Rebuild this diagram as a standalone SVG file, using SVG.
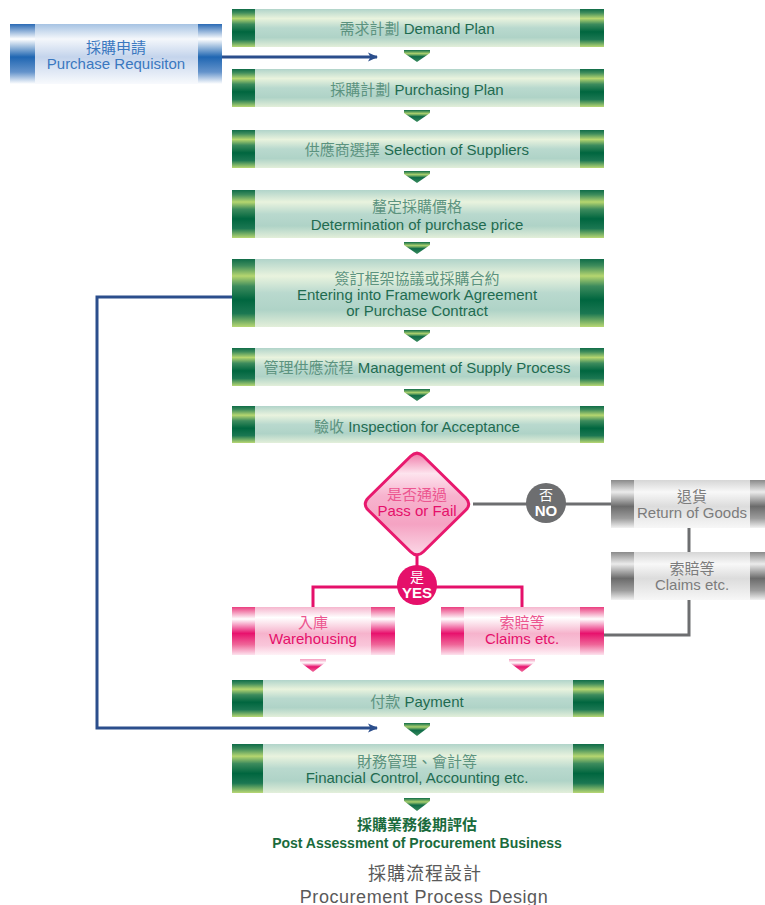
<svg xmlns="http://www.w3.org/2000/svg" width="765" height="905" viewBox="0 0 765 905">
<defs>
<linearGradient id="gCap" x1="0" y1="0" x2="0" y2="1">
<stop offset="0" stop-color="#0f6c48"/><stop offset="0.1" stop-color="#3f8d5c"/><stop offset="0.25" stop-color="#b6d66f"/><stop offset="0.4" stop-color="#3d8b5d"/><stop offset="0.6" stop-color="#00663f"/><stop offset="0.8" stop-color="#1b7752"/><stop offset="1" stop-color="#b9d874"/>
</linearGradient>
<linearGradient id="gBody" x1="0" y1="0" x2="0" y2="1">
<stop offset="0" stop-color="#b1d4ca"/><stop offset="0.25" stop-color="#e9f3de"/><stop offset="0.5" stop-color="#b9d9ce"/><stop offset="0.75" stop-color="#afd3c7"/><stop offset="1" stop-color="#e3efda"/>
</linearGradient>
<linearGradient id="gChev" x1="0" y1="0" x2="0" y2="1">
<stop offset="0" stop-color="#0f6c48"/><stop offset="0.3" stop-color="#a9cf6e"/><stop offset="0.55" stop-color="#0f6c48"/><stop offset="1" stop-color="#3a8b5d"/>
</linearGradient>
<linearGradient id="pCap" x1="0" y1="0" x2="0" y2="1">
<stop offset="0" stop-color="#ea3d7f"/><stop offset="0.25" stop-color="#ffffff"/><stop offset="0.55" stop-color="#e8116d"/><stop offset="0.78" stop-color="#ef6598"/><stop offset="1" stop-color="#fde3ee"/>
</linearGradient>
<linearGradient id="pBody" x1="0" y1="0" x2="0" y2="1">
<stop offset="0" stop-color="#f5b6ce"/><stop offset="0.22" stop-color="#ffffff"/><stop offset="0.55" stop-color="#f6b3cc"/><stop offset="0.8" stop-color="#f9c6da"/><stop offset="1" stop-color="#fff3f7"/>
</linearGradient>
<linearGradient id="pChev" x1="0" y1="0" x2="0" y2="1">
<stop offset="0" stop-color="#f49abd"/><stop offset="0.3" stop-color="#ffffff"/><stop offset="0.6" stop-color="#e8116d"/><stop offset="1" stop-color="#f06f9e"/>
</linearGradient>
<linearGradient id="yCap" x1="0" y1="0" x2="0" y2="1">
<stop offset="0" stop-color="#8a8a8a"/><stop offset="0.25" stop-color="#ebebeb"/><stop offset="0.55" stop-color="#6b6b6b"/><stop offset="0.8" stop-color="#9c9c9c"/><stop offset="1" stop-color="#f2f2f2"/>
</linearGradient>
<linearGradient id="yBody" x1="0" y1="0" x2="0" y2="1">
<stop offset="0" stop-color="#d6d6d6"/><stop offset="0.25" stop-color="#f8f8f8"/><stop offset="0.55" stop-color="#dcdcdc"/><stop offset="1" stop-color="#f7f7f7"/>
</linearGradient>
<linearGradient id="bCap" x1="0" y1="0" x2="0" y2="1">
<stop offset="0" stop-color="#2a6ab5"/><stop offset="0.25" stop-color="#ffffff"/><stop offset="0.55" stop-color="#1f66b2"/><stop offset="0.8" stop-color="#6493cb"/><stop offset="1" stop-color="#ffffff"/>
</linearGradient>
<linearGradient id="bBody" x1="0" y1="0" x2="0" y2="1">
<stop offset="0" stop-color="#a6c3e3"/><stop offset="0.25" stop-color="#f4f7fb"/><stop offset="0.55" stop-color="#c4d4ec"/><stop offset="1" stop-color="#f8fafd"/>
</linearGradient>
<linearGradient id="dFill" x1="0" y1="0" x2="0" y2="1">
<stop offset="0" stop-color="#f07aa8"/><stop offset="0.2" stop-color="#fde4ee"/><stop offset="0.42" stop-color="#f7b3ce"/><stop offset="0.7" stop-color="#f5a3c3"/><stop offset="1" stop-color="#fbd8e6"/>
</linearGradient>
<marker id="arr" markerWidth="10" markerHeight="10" refX="9" refY="5" orient="auto" markerUnits="userSpaceOnUse">
<path d="M0,0.5 L10,5 L0,9.5 L2.5,5 Z" fill="#2b4e8c"/>
</marker>
<style>
text{font-family:"Liberation Sans","Noto Sans CJK TC",Arial,sans-serif;font-size:15px;text-anchor:middle}
text.t14{font-size:14px}
text.t18{font-size:18px}
.b{font-weight:bold}
.g{fill:#1f6b50}
.gc{fill:#5c937f}
.p{fill:#e5106a}
.pc{fill:#ec5690}
.y{fill:#7c7c7c}
.bl{fill:#3a78c0}
.w{fill:#ffffff}
.dg{fill:#1a6b3c}
.tt{fill:#5a5a5a}
.gl{stroke:#2b4e8c;stroke-width:3;fill:none}
.ln{stroke:#6d6e70;stroke-width:3;fill:none}
.pl{stroke:#e5106a;stroke-width:3;fill:none}
</style>
</defs>
<rect width="765" height="905" fill="#ffffff"/>

<g id="connectors">
<polyline class="gl" points="222,57 377,57" marker-end="url(#arr)"/>
<polyline class="gl" points="232,297 97,297 97,728 377,728" marker-end="url(#arr)"/>
<line class="ln" x1="473" y1="504" x2="611" y2="504"/>
<line class="ln" x1="689" y1="528" x2="689" y2="552"/>
<polyline class="ln" points="689,600 689,635 604,635"/>
<line class="pl" x1="417" y1="556" x2="417" y2="587"/>
<polyline class="pl" points="313,607 313,587 522,587 522,607"/>
<g id="chevrons">
<polygon fill="url(#gChev)" points="404,50 430,50 430,53 417,62 404,53"/>
<polygon fill="url(#gChev)" points="404,110 430,110 430,113 417,122 404,113"/>
<polygon fill="url(#gChev)" points="404,171 430,171 430,174 417,183 404,174"/>
<polygon fill="url(#gChev)" points="404,242 430,242 430,245 417,254 404,245"/>
<polygon fill="url(#gChev)" points="404,330 430,330 430,333 417,342 404,333"/>
<polygon fill="url(#gChev)" points="404,389 430,389 430,392 417,401 404,392"/>
<polygon fill="url(#gChev)" points="404,723 430,723 430,726 417,736 404,726"/>
<polygon fill="url(#gChev)" points="404,798 430,798 430,801 417,811 404,801"/>
<polygon fill="url(#pChev)" points="300,659 326,659 326,662 313,672 300,662"/>
<polygon fill="url(#pChev)" points="509,659 535,659 535,662 522,672 509,662"/>
</g>
</g>

<g id="purchase-requisition">
<rect x="10" y="24" width="212" height="60" fill="url(#bBody)"/>
<rect x="10" y="24" width="25" height="60" fill="url(#bCap)"/>
<rect x="198" y="24" width="24" height="60" fill="url(#bCap)"/>
<text class="bl" x="116" y="53">採購申請</text>
<text class="bl" x="116" y="69">Purchase Requisiton</text>
</g>

<g id="demand-plan">
<rect x="232" y="9" width="372" height="38" fill="url(#gBody)"/>
<rect x="232" y="9" width="23" height="38" fill="url(#gCap)"/>
<rect x="580" y="9" width="24" height="38" fill="url(#gCap)"/>
<text x="417" y="34"><tspan class="gc">需求計劃 </tspan><tspan class="g">Demand Plan</tspan></text>
</g>

<g id="purchasing-plan">
<rect x="232" y="69" width="372" height="38" fill="url(#gBody)"/>
<rect x="232" y="69" width="23" height="38" fill="url(#gCap)"/>
<rect x="580" y="69" width="24" height="38" fill="url(#gCap)"/>
<text x="417" y="95"><tspan class="gc">採購計劃 </tspan><tspan class="g">Purchasing Plan</tspan></text>
</g>

<g id="selection-suppliers">
<rect x="232" y="130" width="372" height="38" fill="url(#gBody)"/>
<rect x="232" y="130" width="23" height="38" fill="url(#gCap)"/>
<rect x="580" y="130" width="24" height="38" fill="url(#gCap)"/>
<text x="417" y="155"><tspan class="gc">供應商選擇 </tspan><tspan class="g">Selection of Suppliers</tspan></text>
</g>

<g id="determination-price">
<rect x="232" y="190" width="372" height="48" fill="url(#gBody)"/>
<rect x="232" y="190" width="23" height="48" fill="url(#gCap)"/>
<rect x="580" y="190" width="24" height="48" fill="url(#gCap)"/>
<text class="gc" x="417" y="212">釐定採購價格</text>
<text class="g" x="417" y="230">Determination of purchase price</text>
</g>

<g id="framework-agreement">
<rect x="232" y="259" width="372" height="68" fill="url(#gBody)"/>
<rect x="232" y="259" width="23" height="68" fill="url(#gCap)"/>
<rect x="580" y="259" width="24" height="68" fill="url(#gCap)"/>
<text class="gc" x="417" y="284">簽訂框架協議或採購合約</text>
<text class="g" x="417" y="300">Entering into Framework Agreement</text>
<text class="g" x="417" y="316">or Purchase Contract</text>
</g>

<g id="supply-process">
<rect x="232" y="348" width="372" height="38" fill="url(#gBody)"/>
<rect x="232" y="348" width="23" height="38" fill="url(#gCap)"/>
<rect x="580" y="348" width="24" height="38" fill="url(#gCap)"/>
<text x="417" y="373"><tspan class="gc">管理供應流程 </tspan><tspan class="g">Management of Supply Process</tspan></text>
</g>

<g id="inspection">
<rect x="232" y="406" width="372" height="37" fill="url(#gBody)"/>
<rect x="232" y="406" width="23" height="37" fill="url(#gCap)"/>
<rect x="580" y="406" width="24" height="37" fill="url(#gCap)"/>
<text x="417" y="432"><tspan class="gc">驗收 </tspan><tspan class="g">Inspection for Acceptance</tspan></text>
</g>

<g id="pass-or-fail">
<path d="M423.4,456.3 L465.6,497.7 Q472,504 465.6,510.3 L423.4,551.7 Q417,558 410.6,551.7 L368.4,510.3 Q362,504 368.4,497.7 L410.6,456.3 Q417,450 423.4,456.3 Z" fill="url(#dFill)" stroke="#e8196e" stroke-width="3"/>
<text class="pc" x="417" y="500">是否通過</text>
<text class="p" x="417" y="516">Pass or Fail</text>
</g>

<g id="no-badge">
<circle cx="546" cy="503" r="20" fill="#6d6e70"/>
<text class="w t14" x="546" y="500">否</text>
<text class="w b" x="546" y="516">NO</text>
</g>

<g id="yes-badge">
<circle cx="417" cy="585" r="20" fill="#e5106a"/>
<text class="w t14" x="417" y="582">是</text>
<text class="w b" x="417" y="598">YES</text>
</g>

<g id="return-goods">
<rect x="611" y="480" width="154" height="48" fill="url(#yBody)"/>
<rect x="611" y="480" width="23" height="48" fill="url(#yCap)"/>
<rect x="750" y="480" width="15" height="48" fill="url(#yCap)"/>
<text class="y" x="692" y="502">退貨</text>
<text class="y" x="692" y="518">Return of Goods</text>
</g>

<g id="claims-gray">
<rect x="611" y="552" width="154" height="48" fill="url(#yBody)"/>
<rect x="611" y="552" width="23" height="48" fill="url(#yCap)"/>
<rect x="750" y="552" width="15" height="48" fill="url(#yCap)"/>
<text class="y" x="692" y="574">索賠等</text>
<text class="y" x="692" y="590">Claims etc.</text>
</g>

<g id="warehousing">
<rect x="232" y="607" width="163" height="48" fill="url(#pBody)"/>
<rect x="232" y="607" width="23" height="48" fill="url(#pCap)"/>
<rect x="371" y="607" width="24" height="48" fill="url(#pCap)"/>
<text class="pc" x="313" y="628">入庫</text>
<text class="p" x="313" y="644">Warehousing</text>
</g>

<g id="claims-pink">
<rect x="441" y="607" width="163" height="48" fill="url(#pBody)"/>
<rect x="441" y="607" width="23" height="48" fill="url(#pCap)"/>
<rect x="580" y="607" width="24" height="48" fill="url(#pCap)"/>
<text class="pc" x="522" y="628">索賠等</text>
<text class="p" x="522" y="644">Claims etc.</text>
</g>

<g id="payment">
<rect x="232" y="680" width="372" height="37" fill="url(#gBody)"/>
<rect x="232" y="680" width="31" height="37" fill="url(#gCap)"/>
<rect x="573" y="680" width="31" height="37" fill="url(#gCap)"/>
<text x="417" y="707"><tspan class="gc">付款 </tspan><tspan class="g">Payment</tspan></text>
</g>

<g id="financial-control">
<rect x="232" y="744" width="372" height="49" fill="url(#gBody)"/>
<rect x="232" y="744" width="31" height="49" fill="url(#gCap)"/>
<rect x="573" y="744" width="31" height="49" fill="url(#gCap)"/>
<text class="gc" x="417" y="767">財務管理、會計等</text>
<text class="g" x="417" y="783">Financial Control, Accounting etc.</text>
</g>

<g id="post-assessment">
<text class="b dg" x="417" y="830">採購業務後期評估</text>
<text class="t14 b dg" x="417" y="848">Post Assessment of Procurement Business</text>
</g>

<g id="title">
<text class="t18 tt" x="425" y="880" letter-spacing="1">採購流程設計</text>
<text class="t18 tt" x="424" y="903" letter-spacing="0.55">Procurement Process Design</text>
</g>
</svg>
